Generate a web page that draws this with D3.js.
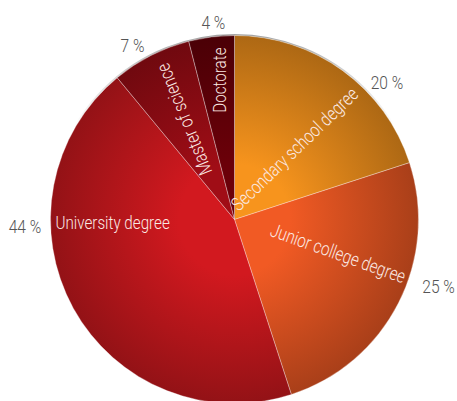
<!DOCTYPE html>
<html>
<head>
<meta charset="utf-8">
<script src="https://cdn.jsdelivr.net/npm/d3@7"></script>
<style>
  html, body { margin: 0; padding: 0; background: #fff; }
  svg { display: block; }
  text { font-family: Roboto, "Liberation Sans", Arial, sans-serif; font-weight: 300; }
</style>
</head>
<body>
<svg id="chart" width="457" height="401"></svg>
<script>
// Education level shares (percent), clockwise from 12 o'clock
const categories = ["Secondary school degree", "Junior college degree", "University degree", "Master of science", "Doctorate"];
const shares = [20, 25, 44, 7, 4];
const shareLabels = ["20 %", "25 %", "44 %", "7 %", "4 %"];
const sliceColors = ["#f7941d", "#f15a24", "#d2191f", "#a00d16", "#6b0009"];

// Label placement (angles in degrees clockwise from 12 o'clock)
const innerLayout = [
  { angle: 46,    radius: 176, dy: -2.3, inward: false },
  { angle: 109.7, radius: 180, dy: 3.5,  inward: false },
  { angle: 270,   radius: 179, dy: 9,    inward: true  },
  { angle: 338,   radius: 171, dy: -2.5, inward: false },
  { angle: 360,   radius: 172, dy: -8.5, inward: false }
];
const outerLayout = [
  { angle: 47.96, radius: 205.3 },
  { angle: 108.05, radius: 214.6 },
  { angle: 268.2, radius: 209.6 },
  { angle: 329.7, radius: 202.1 },
  { angle: 353.9, radius: 198.6 }
];

// Condensed lettering: horizontal squeeze applied to a regular sans
const innerSqueeze = 0.8, outerSqueeze = 0.82, fontSize = 19;

const width = 457, height = 401;
const cx = 234.5, cy = 219.5, R = 184;

const svg = d3.select("#chart");
const defs = svg.append("defs");

const data = categories.map((c, i) => ({ name: c, value: shares[i], label: shareLabels[i], color: sliceColors[i], i }));

const pie = d3.pie().sort(null).value(d => d.value);
const arc = d3.arc().innerRadius(0).outerRadius(R);
const arcs = pie(data);

// Radial shading per slice: bright core, darker rim
arcs.forEach((a, i) => {
  const base = d3.color(a.data.color);
  const g = defs.append("radialGradient")
    .attr("id", "grad" + i)
    .attr("gradientUnits", "userSpaceOnUse")
    .attr("cx", 0).attr("cy", 0).attr("r", R);
  g.append("stop").attr("offset", 0).attr("stop-color", base.formatHex());
  g.append("stop").attr("offset", 0.3).attr("stop-color", base.formatHex());
  g.append("stop").attr("offset", 1).attr("stop-color", base.darker(1).formatHex());
});

// Soft grey rim along the upper edge
const rimGrad = defs.append("linearGradient")
  .attr("id", "rim").attr("x1", 0).attr("y1", 0).attr("x2", 0).attr("y2", 1);
rimGrad.append("stop").attr("offset", 0).attr("stop-color", "#9a9a9a").attr("stop-opacity", 0.9);
rimGrad.append("stop").attr("offset", 0.25).attr("stop-color", "#bbbbbb").attr("stop-opacity", 0);
rimGrad.append("stop").attr("offset", 1).attr("stop-color", "#bbbbbb").attr("stop-opacity", 0);

const g = svg.append("g").attr("transform", `translate(${cx},${cy})`);

g.append("circle")
  .attr("r", R + 0.8)
  .attr("fill", "none")
  .attr("stroke", "url(#rim)")
  .attr("stroke-width", 1.6);

g.selectAll("path.slice")
  .data(arcs)
  .join("path")
  .attr("class", "slice")
  .attr("d", arc)
  .attr("fill", (d, i) => `url(#grad${i})`)
  .attr("stroke", "rgba(255,255,255,0.45)")
  .attr("stroke-width", 0.7);

// Category names inside the slices
g.selectAll("g.inner")
  .data(arcs)
  .join("g")
  .attr("class", "inner")
  .attr("transform", (d, i) => {
    const L = innerLayout[i];
    return `rotate(${L.inward ? L.angle - 270 : L.angle - 90})`;
  })
  .append("text")
  .attr("transform", `scale(${innerSqueeze},1)`)
  .attr("x", (d, i) => (innerLayout[i].inward ? -innerLayout[i].radius : innerLayout[i].radius) / innerSqueeze)
  .attr("y", (d, i) => innerLayout[i].dy)
  .attr("text-anchor", (d, i) => innerLayout[i].inward ? "start" : "end")
  .attr("fill", "#fbe9e4")
  .attr("font-size", fontSize)
  .text(d => d.data.name);

// Percentage labels outside the pie
const toXY = (deg, r) => {
  const t = deg * Math.PI / 180;
  return [r * Math.sin(t), -r * Math.cos(t)];
};
g.selectAll("g.share")
  .data(arcs)
  .join("g")
  .attr("class", "share")
  .attr("transform", (d, i) => {
    const [x, y] = toXY(outerLayout[i].angle, outerLayout[i].radius);
    return `translate(${x},${y})`;
  })
  .append("text")
  .attr("transform", `scale(${outerSqueeze},1)`)
  .attr("dy", "0.36em")
  .attr("text-anchor", "middle")
  .attr("fill", "#555555")
  .attr("font-size", fontSize)
  .text(d => d.data.label);
</script>
</body>
</html>
